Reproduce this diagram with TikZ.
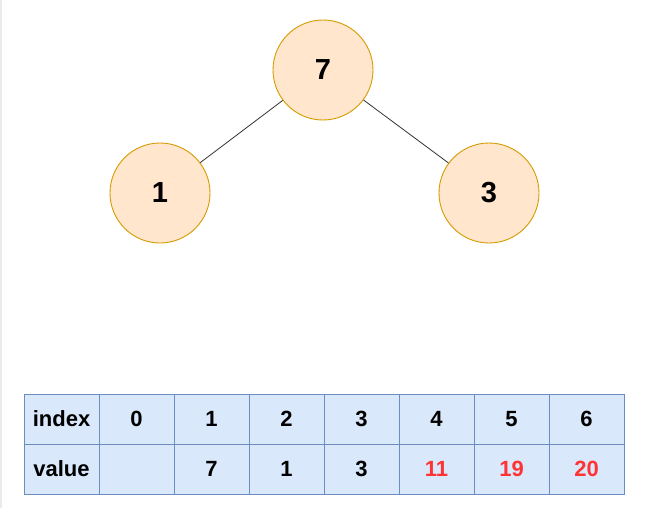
\documentclass[tikz,border=0pt]{standalone}
\usepackage{fontspec}
\setmainfont{Liberation Sans}
\definecolor{nodefill}{HTML}{FFE6CC}
\definecolor{nodedraw}{HTML}{D79B00}
\definecolor{cellfill}{HTML}{DAE8FC}
\definecolor{celldraw}{HTML}{6C8EBF}
\definecolor{hot}{HTML}{FF3333}
\definecolor{edgecol}{HTML}{333333}
\begin{document}
\begin{tikzpicture}[x=1pt,y=-1pt,
  treenode/.style={circle,draw=nodedraw,fill=nodefill,line width=0.9pt,minimum size=100pt,inner sep=0pt,font=\fontsize{29}{32}\selectfont\bfseries},
  cell/.style={rectangle,draw=celldraw,fill=cellfill,line width=0.9pt,minimum width=75pt,minimum height=50pt,inner sep=0pt,font=\fontsize{22}{26}\selectfont\bfseries},
  edge/.style={draw=edgecol,line width=0.8pt}]
\useasboundingbox (0,0) rectangle (652,508);
\fill[white] (0,0) rectangle (652,508);
\draw[black!8,line width=2pt] (1,0) -- (1,508);
\node[treenode] (r) at (323,70) {7};
\node[treenode] (a) at (160,193) {1};
\node[treenode] (b) at (489,193) {3};
\draw[edge] (r) -- (a);
\draw[edge] (r) -- (b);
\foreach \i/\t in {0/index,1/0,2/1,3/2,4/3,5/4,6/5,7/6}{
  \node[cell] (i\i) at ({61.5+75*\i},419) {\t};
}
\foreach \i/\t/\c in {0/value/black,1/{}/black,2/7/black,3/1/black,4/3/black,5/11/hot,6/19/hot,7/20/hot}{
  \node[cell,text=\c] (v\i) at ({61.5+75*\i},469) {\t};
}
\end{tikzpicture}
\end{document}
